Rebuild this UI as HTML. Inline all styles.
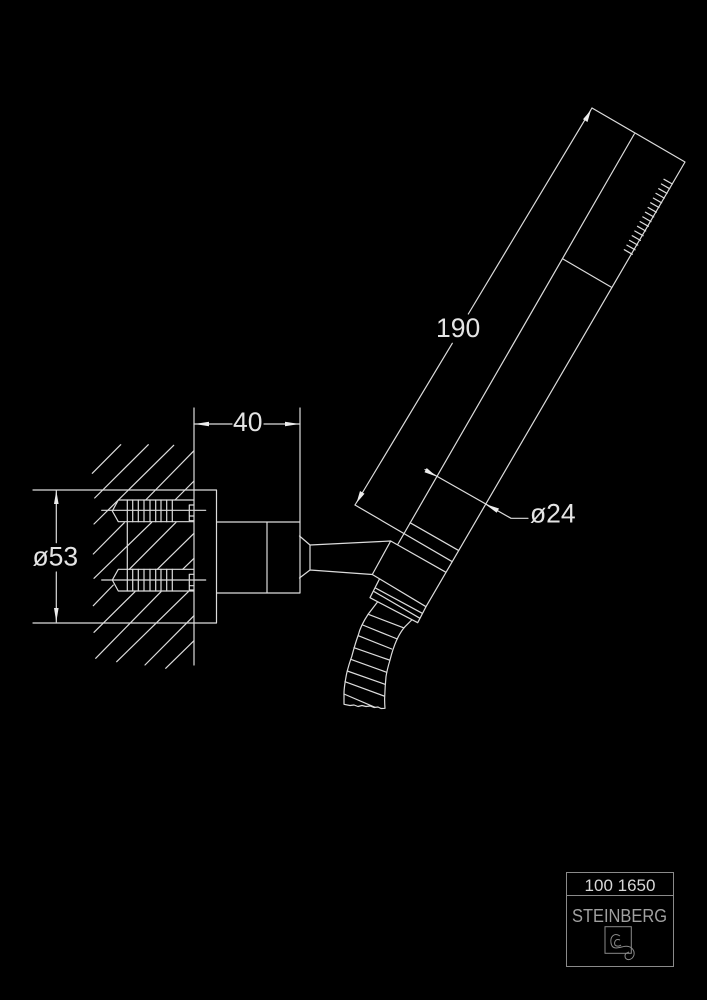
<!DOCTYPE html>
<html>
<head>
<meta charset="utf-8">
<style>
html,body{margin:0;padding:0;background:#000;width:707px;height:1000px;overflow:hidden}
svg{display:block;filter:blur(0.35px)}
text{font-family:"Liberation Sans",sans-serif}
</style>
</head>
<body>
<svg width="707" height="1000" viewBox="0 0 707 1000" xmlns="http://www.w3.org/2000/svg">
<rect width="707" height="1000" fill="#000"/>
<g fill="none" stroke="#dcdcdc" stroke-width="1.2" stroke-linecap="round" stroke-linejoin="round">
<!-- wall + hatch -->
<path d="M194 408V665M300 408V522"/>
<path d="M92.3 473.3L120.7 444.7M94.7 498L148.3 444.7M94 524L173.7 445.3M145.7 500L194 450.7M175 500L194 481M93.3 554L124.3 522.7M94 578.3L151.7 522.3M129.3 569.3L176 522.3M157.3 569.3L194 533.3M182.7 569.3L194 558.3M93.3 605.7L113.3 585M94 632.3L135 591.7M95.7 658.3L161 591.7M116.7 661.7L188.3 591.7M145 665L194 615.7M165.7 668.3L194 640.7"/>
<!-- plate and cylinder -->
<path d="M33 490H216.5V623H33M216.5 522H300V593H216.5M267 522V593"/>
<!-- anchors -->
<path d="M194 500H118.3L112.3 511L118.3 521.7H194M194 569.3H118.3L112.3 580L118.3 591H194M127.3 521.7V569.3"/>
<path d="M101.7 510.3H205.7M101.7 580H205.7"/>
<path d="M127.3 500V521.7M132.7 500V521.7M138.3 500V521.7M144 500V521.7M150 500V521.7M155.7 500V521.7M161 500V521.7M166.7 500V521.7M172.3 500V521.7"/>
<path d="M127.3 569.3V591M132.7 569.3V591M138.3 569.3V591M144 569.3V591M150 569.3V591M155.7 569.3V591M161 569.3V591M166.7 569.3V591M172.3 569.3V591"/>
<path d="M194 505H189.3V520.7H194M189.3 516H194M194 574.3H189.3V590H194M189.3 585.7H194"/>
<!-- cone + arm -->
<path d="M299.5 536L310 545V570L299.5 578M310 545L390.7 541L372.3 574.5L310 570"/>
<!-- handle -->
<path d="M592 108L685 162L426 606.7L417.7 622.7L370 597.7L379.3 579.3M634.3 134L398 544M355 505L452.3 561.7M390.7 541L446 572.3M410 522.7L458.3 550.3M563 259L611 287M372.3 574.5L426 606.7M376 588.3L422.3 613.3M374.3 591.7L420 618.3"/>
<!-- nozzle ticks -->
<path d="M664 179.3L672.3 184M661.4 184L669.6 188.7M658.7 188.7L667 193.4M656 193.4L664.3 198.1M653.4 198.1L661.6 202.8M650.7 202.8L659 207.5M648.1 207.5L656.3 212.2M645.4 212.2L653.7 216.9M642.8 216.9L651 221.6M640.1 221.6L648.4 226.3M637.5 226.3L645.7 231M634.8 231L643.1 235.7M632.2 235.7L640.4 240.4M629.5 240.4L637.8 245.1M626.9 245.1L635.1 249.8M624.3 249.7L632.3 254.3"/>
<!-- hose -->
<path d="M377.3 602.3L368.3 614C363 622 360 628 358.3 635C355 644 353.5 650 351.7 656.7C349 664 348 668 346.7 673.3C345 682 344 688 344 693.3V704.3L350 705.5L354 705L358 706.5L362 705.5L366 706.5L370 706L374 707.5L378 707L381 708.5L385 708.3C384.5 702 384.5 700 384.7 696.7C385 688 385.5 682 386 676.7C387 670 388.5 665 390 660C392 652 394 646 396.7 640C399 635 402 630 405 626.7L411.7 620"/>
<path d="M368.3 614.3L403.3 627.7M362.7 625L397.3 639M358.3 635.7L391.7 649M354 647.7L389.3 660M350.7 659.3L386.7 672.3M347.3 671L385 684.3M345 681.7L384 696M344 694L375 707.3"/>
<!-- dimension 190 (broken around label) -->
<path d="M592 108L468.3 314M452.3 343.3L355 505"/>
<!-- dim 24 -->
<path d="M425 469.5L511 518.3H528"/>
<!-- dim 40 -->
<path d="M194 424H232M264 424H300"/>
<!-- dim 53 -->
<path d="M56.3 490.5V542.7M56.3 572V622"/>
</g>
<!-- arrows -->
<g fill="#ececec" stroke="none">
<path d="M591 110L587.5 122L583 119.3Z"/>
<path d="M356.5 503L360 491L364.5 493.7Z"/>
<path d="M194.5 424L209 421.7V426.3Z"/>
<path d="M299.5 424L285 421.7V426.3Z"/>
<path d="M56.3 490.5L54 504H58.6Z"/>
<path d="M56.3 622L54 608H58.6Z"/>
<path d="M436.5 476.5L424.5 472.3L426.7 468Z"/>
<path d="M485 504L499 508.5L496.7 512.7Z"/>
</g>
<!-- labels -->
<g fill="#e4e4e4" font-size="26.5">
<text x="436" y="337">190</text>
<text x="233" y="431">40</text>
<text x="32.5" y="565.5">ø53</text>
<text x="530" y="522.3">ø24</text>
</g>
<!-- title block -->
<g fill="none" stroke="#8a8a8a" stroke-width="1">
<rect x="566.5" y="872.5" width="107" height="94"/>
<path d="M566.5 895.5H673.5"/>
<rect x="605" y="926.7" width="26.3" height="26.6"/>
<path d="M620 936C614 932 610 937 611 943C612 950 618 948 623 946.7C630 945 635 949 634 955C632 961 625 961 625 956C625 953 627 953 629 952"/>
<path d="M620 940C615 938 614 943 615 945C617 947 620 946 621 945"/>
</g>
<text x="620" y="891" fill="#d8d8d8" font-size="17" text-anchor="middle">100 1650</text>
<text x="572" y="922" fill="#a0a0a0" font-size="18" textLength="95" lengthAdjust="spacingAndGlyphs">STEINBERG</text>
</svg>
</body>
</html>
